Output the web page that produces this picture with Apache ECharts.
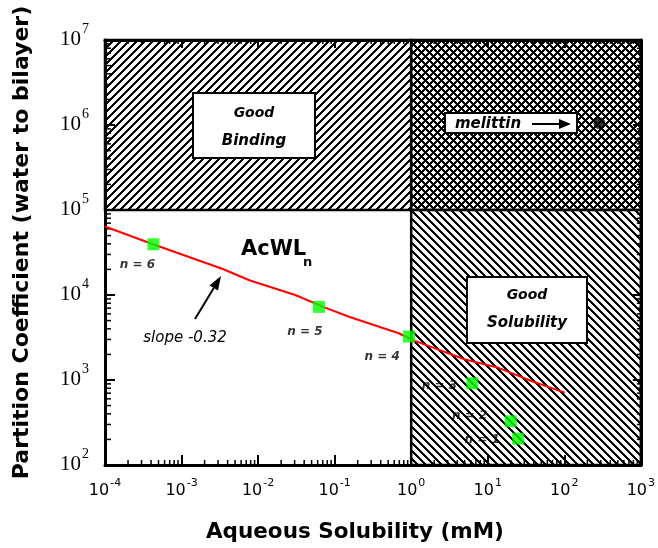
<!DOCTYPE html>
<html>
<head>
<meta charset="utf-8">
<script src="https://cdn.jsdelivr.net/npm/echarts@6/dist/echarts.min.js"></script>
<style>
  html, body { margin: 0; padding: 0; background: #fff; }
  #main { width: 658px; height: 548px; }
</style>
</head>
<body>
<div id="main"></div>
<script>
// AcWLn peptides: aqueous solubility (mM) vs partition coefficient
const peptideLabels = ['n = 1', 'n = 2', 'n = 3', 'n = 4', 'n = 5', 'n = 6'];
const solubility = [25, 20, 6.3, 0.94, 0.0625, 0.00043];
const partition = [204, 327, 916, 3250, 7250, 39500];

// fitted line, slope -0.32
const fitX = [0.0001, 0.000425, 0.00346, 0.0077, 0.0312, 0.0766, 0.154, 0.689, 1.03, 5.08, 13.8, 37.1, 101.6];
const fitY = [64000, 39500, 20200, 14900, 9930, 7060, 5550, 3550, 2970, 1740, 1390, 973, 711];

// melittin
const melittinX = [288];
const melittinY = [1050000];

// shaded regions: good binding, both, good solubility
const regionX0 = [0.0001, 1, 1];
const regionX1 = [1, 1000, 1000];
const regionY0 = [100000, 100000, 100];
const regionY1 = [10000000, 10000000, 100000];

// label offsets for n = ... (pixels, layout only)
const labelOffsets = [[-36, 1], [-41, -5], [-33, 3], [-27, 20], [-14, 25], [-16, 21]];

// crisp pixel hatching
function hatch(kind) {
  const s = 8;
  const t = 3;
  const c = document.createElement('canvas');
  c.width = s; c.height = s;
  const ctx = c.getContext('2d');
  const img = ctx.createImageData(s, s);
  for (let j = 0; j < s; j++) {
    for (let i = 0; i < s; i++) {
      const fwd = (i + j) % s < t;
      const back = ((i - j) % s + s) % s < t;
      let black = false;
      if (kind === '/') black = fwd;
      if (kind === '\\') black = back;
      if (kind === 'x') black = fwd || back;
      const p = (j * s + i) * 4;
      const v = black ? 0 : 255;
      img.data[p] = v; img.data[p + 1] = v; img.data[p + 2] = v; img.data[p + 3] = 255;
    }
  }
  ctx.putImageData(img, 0, 0);
  return { image: c, repeat: 'repeat' };
}
const patterns = [hatch('/'), hatch('x'), hatch('\\')];

const xMinor = [];
for (let k = -4; k < 3; k++) for (let m = 2; m <= 9; m++) xMinor.push(m * Math.pow(10, k));
const yMinor = [];
for (let k = 2; k < 7; k++) for (let m = 2; m <= 9; m++) yMinor.push(m * Math.pow(10, k));

const chart = echarts.init(document.getElementById('main'));

function expLabel(v) {
  return '{b|10}{e|' + Math.round(Math.log10(v)) + '}';
}

const axisBase = {
  type: 'log',
  logBase: 10,
  axisLine: { show: true, lineStyle: { color: '#000', width: 3 } },
  axisTick: { show: true, inside: true, length: 10, lineStyle: { color: '#000', width: 2 } },
  splitLine: { show: false },
  minorTick: { show: false }
};

const option = {
  animation: false,
  backgroundColor: '#fff',
  grid: { left: 105, top: 40, right: 15, bottom: 78, containLabel: false },
  xAxis: [
    Object.assign({}, axisBase, {
      min: 0.0001, max: 1000, splitNumber: 7, position: 'bottom',
      name: 'Aqueous Solubility (mM)',
      nameLocation: 'middle', nameGap: 56,
      nameTextStyle: { fontFamily: 'DejaVu Sans', fontWeight: 'bold', fontSize: 21.5, color: '#000', padding: [0, 36, 0, 0] },
      axisLabel: {
        margin: 18,
        formatter: expLabel,
        rich: {
          b: { fontFamily: 'DejaVu Sans', fontSize: 16, lineHeight: 16, color: '#000', verticalAlign: 'bottom' },
          e: { fontFamily: 'DejaVu Sans', fontSize: 11, lineHeight: 11, color: '#000', padding: [0, 0, 10, 1], verticalAlign: 'bottom' }
        }
      }
    }),
    Object.assign({}, axisBase, {
      min: 0.0001, max: 1000, splitNumber: 7, position: 'top',
      axisLabel: { show: false },
      axisTick: { show: true, inside: true, length: 8, lineStyle: { color: '#000', width: 2 } }
    })
  ],
  yAxis: [
    Object.assign({}, axisBase, {
      min: 100, max: 10000000, splitNumber: 5, position: 'left',
      name: 'Partition Coefficient (water to bilayer)',
      nameLocation: 'middle', nameGap: 72,
      nameTextStyle: { fontFamily: 'DejaVu Sans', fontWeight: 'bold', fontSize: 22, color: '#000', padding: [0, 0, 0, 20] },
      axisLabel: {
        margin: 16,
        formatter: expLabel,
        rich: {
          b: { fontFamily: 'Liberation Serif', fontSize: 21, lineHeight: 20, color: '#000', verticalAlign: 'bottom' },
          e: { fontFamily: 'Liberation Serif', fontSize: 14, lineHeight: 14, color: '#000', padding: [0, 0, 14, 1], verticalAlign: 'bottom' }
        }
      }
    }),
    Object.assign({}, axisBase, {
      min: 100, max: 10000000, splitNumber: 5, position: 'right',
      axisLabel: { show: false },
      axisTick: { show: true, inside: true, length: 8, lineStyle: { color: '#000', width: 2 } }
    })
  ],
  series: [
    {
      name: 'regions',
      type: 'custom',
      z: -1,
      silent: true,
      xAxisIndex: 0, yAxisIndex: 0,
      data: regionX0.map((x0, i) => [x0, regionX1[i], regionY0[i], regionY1[i]]),
      renderItem(params, api) {
        const p0 = api.coord([api.value(0), api.value(3)]);
        const p1 = api.coord([api.value(1), api.value(2)]);
        return {
          type: 'rect',
          shape: { x: p0[0], y: p0[1], width: p1[0] - p0[0], height: p1[1] - p0[1] },
          style: { fill: patterns[params.dataIndex], stroke: '#000', lineWidth: 2.5 }
        };
      }
    },
    {
      name: 'xMinorTicks',
      type: 'custom',
      z: 1,
      silent: true,
      clip: false,
      xAxisIndex: 0, yAxisIndex: 0,
      data: xMinor.map(v => [v]),
      renderItem(params, api) {
        const cs = params.coordSys;
        const x = api.coord([api.value(0), 1000])[0];
        const st = { stroke: '#000', lineWidth: 1.5 };
        return {
          type: 'group',
          children: [
            { type: 'line', shape: { x1: x, y1: cs.y + cs.height, x2: x, y2: cs.y + cs.height - 5 }, style: st },
            { type: 'line', shape: { x1: x, y1: cs.y, x2: x, y2: cs.y + 4 }, style: st }
          ]
        };
      }
    },
    {
      name: 'yMinorTicks',
      type: 'custom',
      z: 1,
      silent: true,
      clip: false,
      xAxisIndex: 0, yAxisIndex: 0,
      data: yMinor.map(v => [1, v]),
      renderItem(params, api) {
        const cs = params.coordSys;
        const y = api.coord([1, api.value(1)])[1];
        const st = { stroke: '#000', lineWidth: 1.5 };
        return {
          type: 'group',
          children: [
            { type: 'line', shape: { x1: cs.x, y1: y, x2: cs.x + 6, y2: y }, style: st },
            { type: 'line', shape: { x1: cs.x + cs.width, y1: y, x2: cs.x + cs.width - 4, y2: y }, style: st }
          ]
        };
      }
    },
    {
      name: 'fit',
      type: 'line',
      z: 3,
      symbol: 'none',
      lineStyle: { color: '#ff0000', width: 2 },
      data: fitX.map((x, i) => [x, fitY[i]])
    },
    {
      name: 'AcWLn',
      type: 'scatter',
      z: 4,
      symbol: 'rect',
      symbolSize: 12,
      itemStyle: { color: '#00ff00' },
      data: solubility.map((x, i) => ({
        value: [x, partition[i]],
        label: {
          show: true,
          formatter: peptideLabels[i],
          position: 'inside',
          offset: labelOffsets[i],
          fontFamily: 'DejaVu Sans',
          fontStyle: 'italic',
          fontWeight: 'bold',
          fontSize: 12,
          color: '#000'
        }
      }))
    },
    {
      name: 'melittin',
      type: 'scatter',
      z: 4,
      symbol: 'circle',
      symbolSize: 12,
      itemStyle: { color: '#000' },
      data: melittinX.map((x, i) => [x, melittinY[i]])
    }
  ]
};

chart.setOption(option);

function arrow(x1, y1, x2, y2, len, half) {
  const dx = x2 - x1, dy = y2 - y1;
  const d = Math.sqrt(dx * dx + dy * dy);
  const ux = dx / d, uy = dy / d;
  const bx = x2 - ux * len, by = y2 - uy * len;
  return [
    { type: 'line', shape: { x1: x1, y1: y1, x2: bx, y2: by }, style: { stroke: '#000', lineWidth: 2 }, z: 10 },
    { type: 'polygon', shape: { points: [[x2, y2], [bx - uy * half, by + ux * half], [bx + uy * half, by - ux * half]] }, style: { fill: '#000' }, z: 10 }
  ];
}

function box(x, y, w, h) {
  return { type: 'rect', shape: { x: x, y: y, width: w, height: h }, style: { fill: '#fff', stroke: '#000', lineWidth: 2 }, z: 10 };
}

function note(text, x, y, opts) {
  return {
    type: 'text', z: 11,
    style: Object.assign({
      text: text, x: x, y: y,
      fontFamily: 'DejaVu Sans', fontStyle: 'italic', fontWeight: 'bold', fontSize: 14,
      fill: '#000', align: 'center', verticalAlign: 'middle'
    }, opts || {})
  };
}

chart.setOption({
  graphic: [
    box(193, 93, 122, 65),
    note('Good', 254, 113),
    note('Binding', 254, 141, { fontSize: 15 }),
    box(467, 277, 120, 66),
    note('Good', 527, 295),
    note('Solubility', 527, 323, { fontSize: 15 }),
    box(445, 113, 132, 20),
    note('melittin', 488, 124, { fontSize: 15 }),
    ...arrow(532, 124, 571, 124, 12, 5),
    note('AcWL', 241, 250, { fontStyle: 'normal', fontSize: 21, align: 'left' }),
    note('n', 303, 263, { fontStyle: 'normal', fontSize: 13, align: 'left' }),
    note('slope -0.32', 185, 338, { fontWeight: 'normal', fontSize: 15 }),
    ...arrow(195, 319, 221, 276, 14, 5)
  ]
});
</script>
</body>
</html>
